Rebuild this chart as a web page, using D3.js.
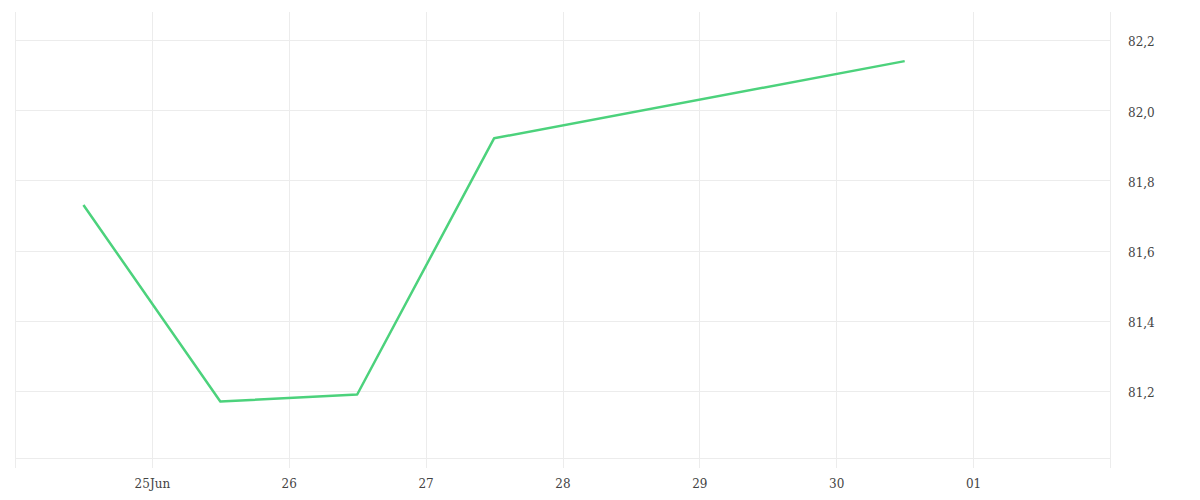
<!DOCTYPE html>
<html><head><meta charset="utf-8">
<script src="https://cdn.jsdelivr.net/npm/d3@7"></script>
<style>
html,body{margin:0;padding:0;background:#fff;}
svg text{font-family:"DejaVu Serif",serif;font-size:12px;fill:#444;}
</style></head>
<body><svg id="c" width="1200" height="500"></svg>
<script>
const dates = ["2025-06-24T12:00","2025-06-25T12:00","2025-06-26T12:00","2025-06-27T12:00","2025-06-30T12:00"];
const values = [81.73, 81.17, 81.19, 81.92, 82.14];
const yTicks = [81.2, 81.4, 81.6, 81.8, 82.0, 82.2];
const xTicks = ["2025-06-25","2025-06-26","2025-06-27","2025-06-28","2025-06-29","2025-06-30","2025-07-01"];
const xTickLabels = ["25Jun","26","27","28","29","30","01"];

const parse = d3.isoParse;
const svg = d3.select("#c");
const L=15, R=1110, T=12, B=458;
const x = d3.scaleTime().domain([parse("2025-06-24T00:00"), parse("2025-07-02T00:00")]).range([L,R]);
const y = d3.scaleLinear().domain([81.009, 82.28]).range([B,T]);

const grid = svg.append("g").attr("stroke","#ececec").attr("stroke-width",1).attr("shape-rendering","crispEdges");
grid.selectAll("line.h").data(yTicks.concat([81.009])).enter().append("line")
  .attr("x1",L).attr("x2",R).attr("y1",d=>Math.round(y(d))+0.5).attr("y2",d=>Math.round(y(d))+0.5);
const vts = [parse("2025-06-24T00:00")].concat(xTicks.map(d=>parse(d))).concat([parse("2025-07-02T00:00")]);
grid.selectAll("line.v").data(vts).enter().append("line")
  .attr("x1",d=>Math.round(x(d))+0.5).attr("x2",d=>Math.round(x(d))+0.5).attr("y1",T).attr("y2",468);

const yAxis = svg.append("g").attr("transform",`translate(${R},2)`)
  .call(d3.axisRight(y).tickValues(yTicks).tickSize(0).tickPadding(18).tickFormat(d=>d3.format(".1f")(d).replace(".",",")));
yAxis.select(".domain").remove();

const xAxis = svg.append("g").attr("transform",`translate(0,${468})`)
  .call(d3.axisBottom(x).tickValues(xTicks.map(d=>parse(d))).tickSize(0).tickPadding(11).tickFormat((d,i)=>xTickLabels[i]));
xAxis.select(".domain").remove();

const line = d3.line().x((d,i)=>x(parse(dates[i]))).y(d=>y(d));
svg.append("path").datum(values).attr("d",line).attr("fill","none").attr("stroke","#4cd27c").attr("stroke-width",2.5).attr("stroke-linejoin","round");
</script></body></html>
